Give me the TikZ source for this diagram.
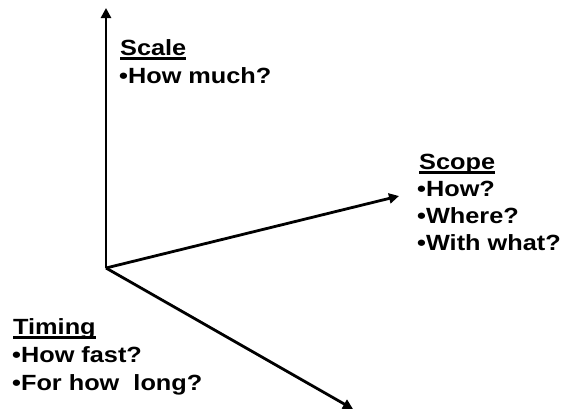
\documentclass[tikz,border=0pt]{standalone}
\usepackage{fontspec}
\setmainfont{Liberation Sans}[FakeStretch=1.15]
\usetikzlibrary{arrows.meta}
\newcommand\myul[1]{\setbox0\hbox{#1}\rlap{\rule[-4.5pt]{\wd0}{2.2pt}}\box0}
\begin{document}
\begin{tikzpicture}[x=1pt,y=-1pt,
  axis/.style={line width=2.8pt,-{Triangle[length=10pt,width=10pt]}},
  lbl/.style={anchor=base west,inner sep=0pt,font=\bfseries\fontsize{22}{26}\selectfont}]
\useasboundingbox (0,0) rectangle (564,410);
\coordinate (o) at (106,268);
\coordinate (top) at (106,8);
\coordinate (right) at (399,196);
\coordinate (down) at (353,409);
\draw[axis] (o) -- (top);
\draw[axis] (o) -- (right);
\draw[axis] (o) -- (down);
\node[lbl] (s1) at (120,55) {\myul{Scale}};
\node[lbl] (s2) at (119,83) {•How much?};
\node[lbl] (c1) at (419,169) {\myul{Scope}};
\node[lbl] (c2) at (417,196) {•How?};
\node[lbl] (c3) at (417,223) {•Where?};
\node[lbl] (c4) at (417,250) {•With what?};
\node[lbl] (t1) at (13,334) {\myul{Timing}};
\node[lbl] (t2) at (12,362) {•How fast?};
\node[lbl] (t3) at (12,390) {•For how\ \ long?};
\end{tikzpicture}
\end{document}
